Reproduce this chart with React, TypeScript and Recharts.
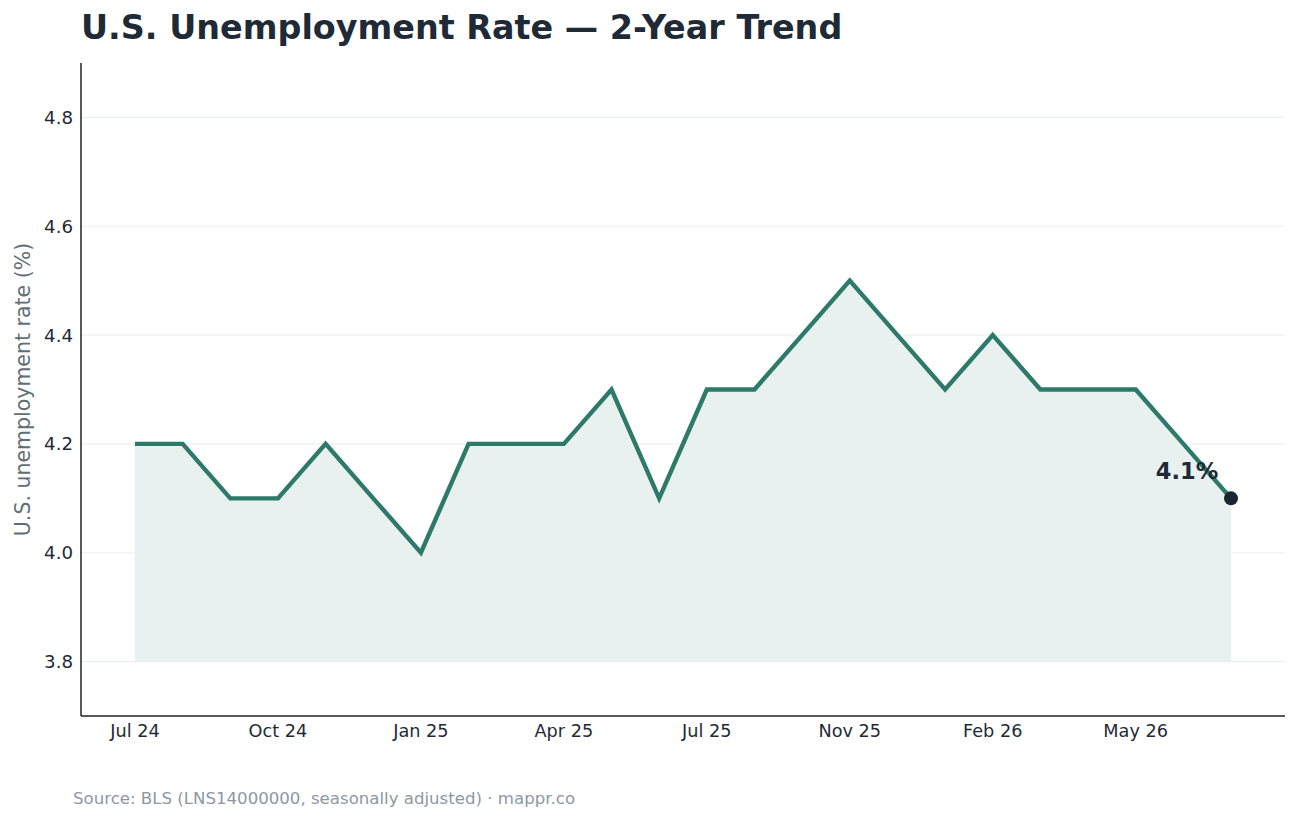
import React from 'react';
import { ComposedChart, Line, Area, XAxis, YAxis, CartesianGrid } from 'recharts';

const months = ['Jul 24','Aug 24','Sep 24','Oct 24','Nov 24','Dec 24','Jan 25','Feb 25','Mar 25','Apr 25','May 25','Jun 25','Jul 25','Aug 25','Sep 25','Nov 25','Dec 25','Jan 26','Feb 26','Mar 26','Apr 26','May 26','Jun 26','Jul 26'];
const rates = [4.2,4.2,4.1,4.1,4.2,4.1,4.0,4.2,4.2,4.2,4.3,4.1,4.3,4.3,4.4,4.5,4.4,4.3,4.4,4.3,4.3,4.3,4.2,4.1];
const xTickIndices = [0,3,6,9,12,15,18,21];
const yTicks = [3.8,4.0,4.2,4.4,4.6,4.8];

const data = months.map((m, i) => ({ i, month: m, rate: rates[i] }));
const lastIndex = rates.length - 1;
const FONT = '"DejaVu Sans", sans-serif';

const LastDot = (props: any) => {
  const { cx, cy, index, value } = props;
  if (index !== lastIndex) return <g key={`d${index}`} />;
  const v = Array.isArray(value) ? value[1] : value;
  return (
    <g key={`d${index}`}>
      <circle cx={cx} cy={cy} r={7} fill="#1c2533" />
      <text x={cx - 44} y={cy - 19} textAnchor="middle" fontFamily={FONT} fontWeight="bold" fontSize={22.5} fill="#1f2a37">
        {`${Number(v).toFixed(1)}%`}
      </text>
    </g>
  );
};

export default function App() {
  return (
    <div style={{ position: 'absolute', left: 0, top: 0, width: 1300, height: 823, background: '#fff', fontFamily: FONT }}>
      <div style={{ position: 'absolute', left: 81, top: 8, fontSize: 33.4, fontWeight: 'bold', color: '#1f2a37', whiteSpace: 'nowrap' }}>
        U.S. Unemployment Rate — 2-Year Trend
      </div>
      <ComposedChart width={1300} height={823} data={data} margin={{ top: 63, right: 15, bottom: 77, left: 0 }}>
        <CartesianGrid vertical={false} stroke="#eceff0" strokeWidth={1.2} syncWithTicks />
        <XAxis
          dataKey="i"
          type="number"
          domain={[-1.133, 24.133]}
          ticks={xTickIndices}
          tickFormatter={(v: number) => months[v]}
          height={30}
          tickLine={false}
          axisLine={{ stroke: '#222', strokeWidth: 1.5 }}
          tick={{ fill: '#1f2a37', fontSize: 17.7, fontFamily: FONT }}
          allowDataOverflow
        />
        <YAxis
          type="number"
          domain={[3.7, 4.9]}
          ticks={yTicks}
          tickFormatter={(v: number) => v.toFixed(1)}
          width={81}
          tickLine={false}
          axisLine={{ stroke: '#222', strokeWidth: 1.5 }}
          tick={{ fill: '#1f2a37', fontSize: 18.2, fontFamily: FONT }}
          allowDataOverflow
          label={{ value: 'U.S. unemployment rate (%)', angle: -90, position: 'insideLeft', offset: 23, style: { textAnchor: 'middle', fill: '#5f6f75', fontSize: 20.5, fontFamily: FONT } }}
        />
        <Area dataKey="rate" type="linear" baseValue={3.8} fill="#e8f1ef" fillOpacity={1} stroke="none" isAnimationActive={false} />
        <Line dataKey="rate" type="linear" stroke="#2e7a6a" strokeWidth={4.4} dot={LastDot} activeDot={false} isAnimationActive={false} />
      </ComposedChart>
      <div style={{ position: 'absolute', left: 73, top: 789, fontSize: 16.6, color: '#8d98a3', whiteSpace: 'nowrap' }}>
        Source: BLS (LNS14000000, seasonally adjusted) · mappr.co
      </div>
    </div>
  );
}
